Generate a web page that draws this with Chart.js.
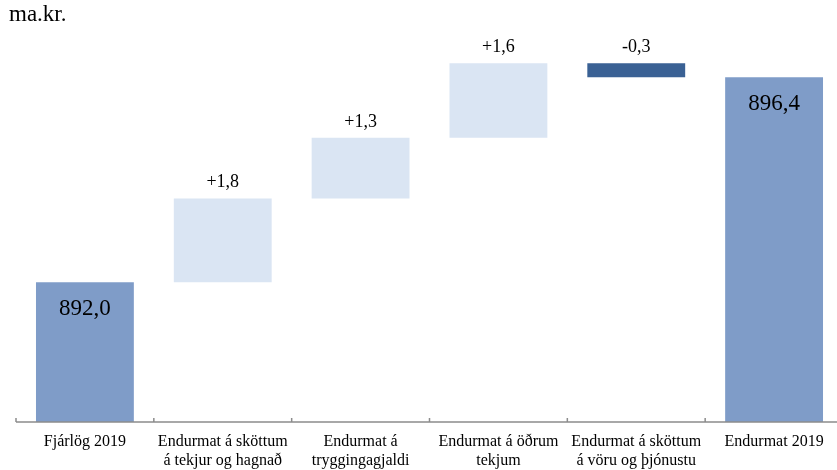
<!DOCTYPE html>
<html>
<head>
<meta charset="utf-8">
<script src="https://cdn.jsdelivr.net/npm/chart.js@4/dist/chart.umd.min.js"></script>
<style>
  html, body { margin: 0; padding: 0; background: #fff; overflow: hidden; }
  #wrap { width: 845px; height: 470px; }
</style>
</head>
<body>
<div id="wrap"><canvas id="graf"></canvas></div>
<script>
// gögn
const flokkar = [
  'Fjárlög 2019',
  ['Endurmat á sköttum', 'á tekjur og hagnað'],
  ['Endurmat á', 'tryggingagjaldi'],
  ['Endurmat á öðrum', 'tekjum'],
  ['Endurmat á sköttum', 'á vöru og þjónustu'],
  'Endurmat 2019'
];
const upphaf = 892.0;
const breytingar = [1.8, 1.3, 1.6, -0.3];
const endir = 896.4;
const yMin = 889;
const yMax = 897.5;

const litSumma = '#7f9cc8';
const litHaekkun = '#dae5f3';
const litLaekkun = '#3a6194';

// byggja fljótandi súlur
const gildi = [[yMin, upphaf]];
const litir = [litSumma];
let stada = upphaf;
breytingar.forEach(b => {
  gildi.push([stada, stada + b]);
  litir.push(b >= 0 ? litHaekkun : litLaekkun);
  stada += b;
});
gildi.push([yMin, endir]);
litir.push(litSumma);

const fmt = v => v.toFixed(1).replace('.', ',');

const merkingar = {
  id: 'merkingar',
  afterDatasetsDraw(chart) {
    const ctx = chart.ctx;
    const meta = chart.getDatasetMeta(0);
    ctx.save();
    ctx.fillStyle = '#000';
    ctx.textAlign = 'center';
    ctx.textBaseline = 'middle';
    meta.data.forEach((bar, i) => {
      const top = Math.min(bar.y, bar.base);
      if (i === 0 || i === meta.data.length - 1) {
        ctx.font = '23px "Liberation Serif", serif';
        const v = i === 0 ? upphaf : endir;
        ctx.fillText(fmt(v), bar.x, top + 27);
      } else {
        const b = breytingar[i - 1];
        ctx.font = '18px "Liberation Serif", serif';
        ctx.fillText((b > 0 ? '+' : '') + fmt(b), bar.x, top - 16);
      }
    });
    // ás og merki
    const x = chart.scales.x;
    const bottom = chart.chartArea.bottom;
    ctx.strokeStyle = '#8c8c8c';
    ctx.lineWidth = 1.5;
    ctx.beginPath();
    ctx.moveTo(chart.chartArea.left, bottom);
    ctx.lineTo(chart.chartArea.right, bottom);
    const w = x.width / flokkar.length;
    for (let i = 0; i <= flokkar.length; i++) {
      const px = x.left + i * w;
      ctx.moveTo(px, bottom);
      ctx.lineTo(px, bottom - 4);
    }
    ctx.stroke();
    // eining
    ctx.font = '23px "Liberation Serif", serif';
    ctx.textAlign = 'left';
    ctx.fillText('ma.kr.', 9, 15);
    ctx.restore();
  }
};

new Chart(document.getElementById('graf'), {
  type: 'bar',
  data: {
    labels: flokkar,
    datasets: [{
      data: gildi,
      backgroundColor: litir,
      borderWidth: 0,
      barPercentage: 0.71,
      categoryPercentage: 1
    }]
  },
  options: {
    responsive: true,
    maintainAspectRatio: false,
    animation: false,
    layout: { padding: { top: 26, left: 16, right: 2, bottom: 0 } },
    plugins: { legend: { display: false }, tooltip: { enabled: false } },
    scales: {
      x: {
        grid: { display: false, drawTicks: false },
        border: { display: false },
        ticks: {
          color: '#000',
          padding: 10,
          maxRotation: 0,
          autoSkip: false,
          font: { family: '"Liberation Serif", serif', size: 16, lineHeight: 1.22 }
        },
        afterFit: s => { s.height = 48; }
      },
      y: {
        display: false,
        min: yMin,
        max: yMax
      }
    }
  },
  plugins: [merkingar]
});
</script>
</body>
</html>
